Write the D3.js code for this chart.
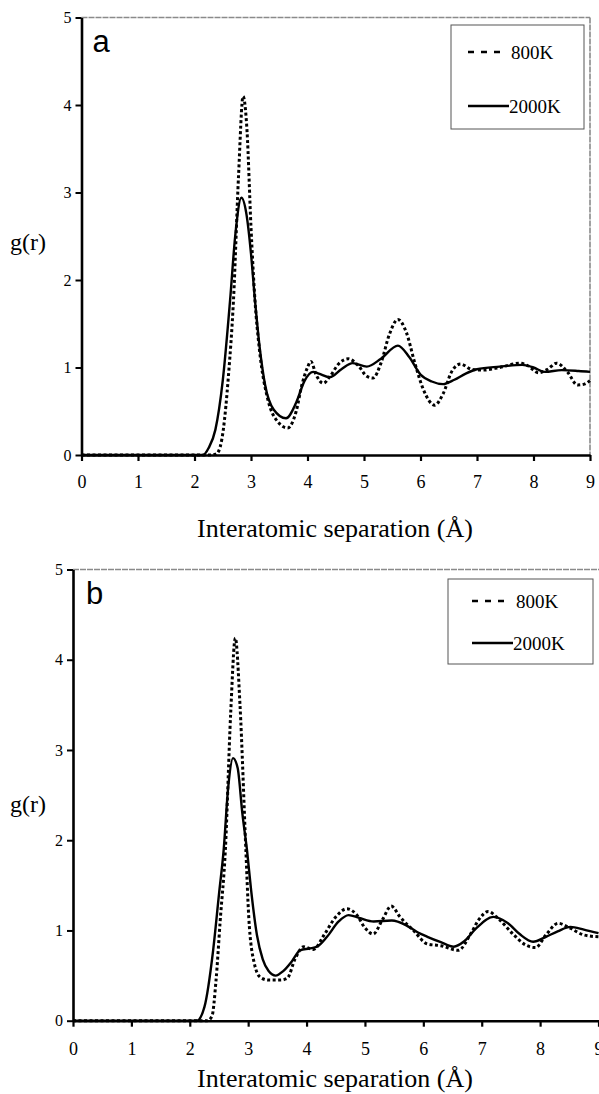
<!DOCTYPE html>
<html>
<head>
<meta charset="utf-8">
<script src="https://cdn.jsdelivr.net/npm/d3@7"></script>
<style>
  body { margin: 0; background: #fff; }
  svg { display: block; }
  .tick text { font-family: "Liberation Serif", "DejaVu Serif", serif; fill: #000; }
</style>
</head>
<body>
<svg id="chart"></svg>
<script>
var width = 599, height = 1094;

var svg = d3.select("#chart").attr("width", width).attr("height", height);

// panel a, 800K (dashed)
var rA800 = [0, 2.3, 2.4, 2.51, 2.6, 2.69, 2.78, 2.86, 2.93, 3.0, 3.07, 3.15, 3.3, 3.45, 3.65, 3.8, 3.9, 4.0, 4.06, 4.15, 4.28, 4.4, 4.55, 4.72, 4.9, 5.05, 5.16, 5.3, 5.45, 5.6, 5.75, 5.9, 6.05, 6.25, 6.4, 6.55, 6.71, 6.9, 7.1, 7.4, 7.76, 7.9, 8.09, 8.25, 8.41, 8.6, 8.78, 8.9, 9.0];
var gA800 = [0, 0, 0.02, 0.29, 0.9, 1.77, 3.2, 4.1, 3.7, 2.6, 1.77, 1.2, 0.63, 0.4, 0.31, 0.5, 0.8, 1.0, 1.07, 0.92, 0.82, 0.9, 1.04, 1.1, 1.02, 0.9, 0.88, 1.05, 1.38, 1.55, 1.4, 1.05, 0.75, 0.57, 0.7, 0.95, 1.04, 0.98, 0.97, 1.0, 1.05, 1.02, 0.94, 0.98, 1.05, 0.95, 0.80, 0.81, 0.85];

// panel a, 2000K (solid)
var rA2000 = [0, 2.15, 2.25, 2.37, 2.5, 2.63, 2.72, 2.83, 2.92, 3.0, 3.07, 3.15, 3.25, 3.4, 3.62, 3.8, 3.95, 4.1, 4.2, 4.4, 4.6, 4.8, 5.05, 5.3, 5.6, 5.8, 6.0, 6.2, 6.4, 6.6, 6.8, 7.0, 7.4, 7.8, 8.0, 8.2, 8.5, 8.8, 9.0];
var gA2000 = [0, 0, 0.08, 0.29, 0.85, 1.77, 2.5, 2.94, 2.75, 2.3, 1.77, 1.25, 0.8, 0.52, 0.42, 0.6, 0.85, 0.95, 0.93, 0.89, 0.98, 1.05, 1.01, 1.1, 1.25, 1.12, 0.92, 0.84, 0.81, 0.86, 0.93, 0.98, 1.01, 1.03, 1.0, 0.95, 0.97, 0.96, 0.95];

// panel b, 800K (dashed)
var rB800 = [0, 2.3, 2.38, 2.45, 2.52, 2.61, 2.7, 2.78, 2.86, 2.96, 3.01, 3.1, 3.21, 3.35, 3.55, 3.67, 3.8, 3.95, 4.05, 4.12, 4.3, 4.5, 4.69, 4.85, 5.0, 5.14, 5.3, 5.45, 5.6, 5.83, 6.07, 6.3, 6.6, 6.8, 6.95, 7.11, 7.3, 7.55, 7.75, 7.92, 8.1, 8.31, 8.5, 8.75, 9.0];
var gB800 = [0, 0, 0.05, 0.45, 1.1, 1.9, 3.4, 4.24, 3.5, 1.9, 1.15, 0.65, 0.48, 0.45, 0.45, 0.47, 0.68, 0.82, 0.8, 0.79, 0.95, 1.15, 1.24, 1.18, 1.03, 0.96, 1.12, 1.27, 1.15, 1.0, 0.85, 0.83, 0.78, 0.95, 1.12, 1.21, 1.12, 0.95, 0.84, 0.81, 0.95, 1.08, 1.03, 0.95, 0.93];

// panel b, 2000K (solid)
var rB2000 = [0, 2.12, 2.25, 2.4, 2.5, 2.58, 2.66, 2.74, 2.82, 2.9, 2.98, 3.05, 3.15, 3.25, 3.35, 3.47, 3.6, 3.75, 3.89, 4.05, 4.18, 4.35, 4.55, 4.72, 4.9, 5.15, 5.46, 5.7, 5.9, 6.07, 6.3, 6.52, 6.7, 6.9, 7.2, 7.45, 7.65, 7.88, 8.1, 8.3, 8.52, 8.75, 9.0];
var gB2000 = [0, 0, 0.15, 0.78, 1.4, 1.89, 2.6, 2.91, 2.8, 2.3, 1.89, 1.45, 0.95, 0.68, 0.55, 0.5, 0.55, 0.66, 0.78, 0.8, 0.82, 0.93, 1.1, 1.17, 1.14, 1.10, 1.11, 1.06, 0.98, 0.93, 0.87, 0.82, 0.88, 1.02, 1.15, 1.08, 0.96, 0.875, 0.93, 0.99, 1.04, 1.01, 0.97];

var xTicks = [0, 1, 2, 3, 4, 5, 6, 7, 8, 9];
var yTicks = [0, 1, 2, 3, 4, 5];
var seriesNames = ["800K", "2000K"];

var serif = "'Liberation Serif', 'DejaVu Serif', serif";

function zip(r, g) {
  return r.map(function(d, i) { return [d, g[i]]; });
}

function drawPanel(p) {
  var x = d3.scaleLinear().domain([0, 9]).range([p.left, p.right]);
  var y = d3.scaleLinear().domain([0, 5]).range([p.bottom, p.top]);

  var g = svg.append("g");

  // grey frame (top and right)
  g.append("line")
    .attr("x1", p.left).attr("x2", p.frameRight)
    .attr("y1", p.top).attr("y2", p.top)
    .attr("stroke", "#8a8a8a").attr("stroke-width", 1.6)
    .attr("stroke-dasharray", "6,1");
  if (p.frameRight < width) {
    g.append("line")
      .attr("x1", p.frameRight).attr("x2", p.frameRight)
      .attr("y1", p.top).attr("y2", p.bottom)
      .attr("stroke", "#8a8a8a").attr("stroke-width", 1.6)
      .attr("stroke-dasharray", "6,1");
  }

  var line = d3.line()
    .x(function(d) { return x(d[0]); })
    .y(function(d) { return y(d[1]); })
    .curve(d3.curveMonotoneX);

  g.append("path")
    .datum(zip(p.r2000, p.g2000))
    .attr("fill", "none").attr("stroke", "#000")
    .attr("stroke-width", 2.4)
    .attr("d", line);

  g.append("path")
    .datum(zip(p.r800, p.g800))
    .attr("fill", "none").attr("stroke", "#000")
    .attr("stroke-width", 3)
    .attr("stroke-dasharray", "3,2.5")
    .attr("d", line);

  // axes
  var xAxis = g.append("g")
    .attr("transform", "translate(0," + p.bottom + ")")
    .call(d3.axisBottom(x).tickValues(xTicks).tickSize(6).tickSizeOuter(0).tickFormat(d3.format("d")));
  xAxis.select(".domain").attr("stroke-width", 2.6);
  xAxis.selectAll(".tick line").attr("stroke-width", 2.2);
  xAxis.selectAll(".tick text")
    .attr("dy", null).attr("y", p.xLabelDy)
    .style("font-size", "18px");

  var yAxis = g.append("g")
    .attr("transform", "translate(" + p.left + ",0)")
    .call(d3.axisLeft(y).tickValues(yTicks).tickSize(6).tickSizeOuter(0).tickPadding(4).tickFormat(d3.format("d")));
  yAxis.select(".domain").attr("stroke-width", 2.6);
  yAxis.selectAll(".tick line").attr("stroke-width", 2);
  yAxis.selectAll(".tick text").style("font-size", "16px");

  // panel letter
  g.append("text")
    .attr("x", p.left + p.letterDx).attr("y", p.top + 34)
    .style("font-family", "'Liberation Sans', Arial, sans-serif")
    .style("font-size", "31px")
    .text(p.letter);

  // axis titles
  g.append("text")
    .attr("x", 335).attr("y", p.titleY)
    .attr("text-anchor", "middle")
    .style("font-family", serif).style("font-size", "26px")
    .text("Interatomic separation (Å)");

  g.append("text")
    .attr("x", 10).attr("y", p.gY)
    .style("font-family", serif).style("font-size", "24px")
    .text("g(r)");

  // legend
  var L = p.legend;
  g.append("rect")
    .attr("x", L.x).attr("y", L.y).attr("width", L.w).attr("height", L.h)
    .attr("fill", "#fff").attr("stroke", "#555").attr("stroke-width", 1);

  var rows = [
    { name: seriesNames[0], dash: "6,7", y: L.row1, x2: L.dashEnd },
    { name: seriesNames[1], dash: null, y: L.row2, x2: L.solidEnd }
  ];
  rows.forEach(function(row) {
    g.append("line")
      .attr("x1", L.sampleX).attr("x2", row.x2)
      .attr("y1", row.y).attr("y2", row.y)
      .attr("stroke", "#000").attr("stroke-width", 2.6)
      .attr("stroke-dasharray", row.dash);
    g.append("text")
      .attr("x", row.x2 + (row.dash ? 8 : 0)).attr("y", row.y + 7)
      .style("font-family", serif).style("font-size", "19px")
      .text(row.name);
  });
}

drawPanel({
  left: 81.5, right: 590, top: 17.5, bottom: 455, frameRight: 590,
  r800: rA800, g800: gA800, r2000: rA2000, g2000: gA2000,
  xLabelDy: 33, titleY: 537, gY: 250, letter: "a", letterDx: 11,
  legend: { x: 451, y: 25, w: 133, h: 104, sampleX: 468, dashEnd: 503, solidEnd: 509, row1: 52, row2: 106 }
});

drawPanel({
  left: 73, right: 598.5, top: 569.5, bottom: 1020.7, frameRight: 640,
  r800: rB800, g800: gB800, r2000: rB2000, g2000: gB2000,
  xLabelDy: 34, titleY: 1087, gY: 812, letter: "b", letterDx: 13,
  legend: { x: 448, y: 579, w: 145, h: 85, sampleX: 472, dashEnd: 508, solidEnd: 513, row1: 601, row2: 643 }
});
</script>
</body>
</html>
